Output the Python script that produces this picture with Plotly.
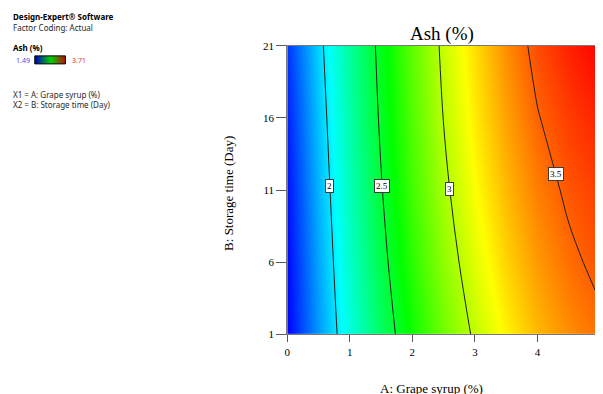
import numpy as np
import plotly.graph_objects as go

# ---- data ----
grape_syrup = [0, 0.5, 1, 1.5, 2, 2.5, 3, 3.5, 4, 4.5, 5]          # A (%)
storage_day = [1, 6, 11, 16, 21]                                     # B (Day)
ash_day1  = [1.496, 1.823, 2.121, 2.390, 2.630, 2.842, 3.025, 3.180, 3.306, 3.403, 3.470]
ash_day6  = [1.507, 1.851, 2.164, 2.444, 2.693, 2.909, 3.094, 3.248, 3.375, 3.470, 3.535]
ash_day11 = [1.529, 1.882, 2.202, 2.489, 2.743, 2.963, 3.151, 3.306, 3.435, 3.525, 3.580]
ash_day16 = [1.562, 1.915, 2.236, 2.525, 2.781, 3.004, 3.196, 3.358, 3.492, 3.580, 3.640]
ash_day21 = [1.605, 1.951, 2.266, 2.552, 2.807, 3.033, 3.228, 3.400, 3.545, 3.640, 3.710]
ash_min, ash_max = 1.49, 3.71
contour_levels = [2, 2.5, 3, 3.5]
contour_labels = ["2", "2.5", "3", "3.5"]
label_days = [11.3, 11.3, 11.1, 12.1]
x_ticks = [0, 1, 2, 3, 4, 5]
y_ticks = [1, 6, 11, 16, 21]

z = np.array([ash_day1, ash_day6, ash_day11, ash_day16, ash_day21])

colorscale = [[0.0, "rgb(0,0,255)"], [0.25, "rgb(0,255,255)"], [0.5, "rgb(0,255,0)"],
              [0.75, "rgb(255,255,0)"], [1.0, "rgb(255,0,0)"]]
legend_scale = [[0.0, "rgb(0,0,190)"], [0.5, "rgb(0,210,0)"], [1.0, "rgb(200,0,0)"]]

serif = "Liberation Serif"
sans = "Noto Sans"

W, H = 603, 394
def fx(x): return (x - 8) / W
def fy(y): return 1 - ((y - 13.2) / 0.968) / H

fig = go.Figure()
fig.add_trace(go.Heatmap(
    x=grape_syrup, y=storage_day, z=z, zsmooth="best",
    colorscale=colorscale, zmin=ash_min, zmax=ash_max,
    showscale=False, hoverinfo="skip", xaxis="x", yaxis="y"
))
fig.add_trace(go.Contour(
    x=grape_syrup, y=storage_day, z=z,
    contours=dict(start=contour_levels[0], end=contour_levels[-1], size=0.5,
                  coloring="none"),
    line=dict(color="rgb(30,30,30)", width=1),
    showscale=False, hoverinfo="skip", xaxis="x", yaxis="y"
))
# small legend gradient bar (min -> max)
fig.add_trace(go.Heatmap(
    x=[0, 1], y=[0, 1], z=[[ash_min, ash_max], [ash_min, ash_max]], zsmooth="best",
    colorscale=legend_scale, zmin=ash_min, zmax=ash_max,
    showscale=False, hoverinfo="skip", xaxis="x2", yaxis="y2"
))

annotations = []
for lvl, txt, d in zip(contour_levels, contour_labels, label_days):
    row = np.array([np.interp(d, storage_day, z[:, j]) for j in range(len(grape_syrup))])
    xl = float(np.interp(lvl, row, grape_syrup))
    annotations.append(dict(x=xl, y=d, xref="x", yref="y", text=txt, showarrow=False,
                            font=dict(family=serif, size=9, color="black"),
                            bgcolor="white", bordercolor="rgb(60,60,60)",
                            borderwidth=1, borderpad=1))

left_texts = [
    ("<b>Design-Expert® Software</b>", 8, 16, "black", 8),
    ("Factor Coding: Actual", 8, 27, "rgb(40,40,40)", 8),
    ("<b>Ash (%)</b>", 8, 47, "black", 8),
    ("1.49", 11, 60, "rgb(80,80,220)", 7),
    ("3.71", 68, 60, "rgb(220,50,50)", 7),
    ("X1 = A: Grape syrup (%)", 8, 94, "rgb(40,40,40)", 8),
    ("X2 = B: Storage time (Day)", 8, 104, "rgb(40,40,40)", 8),
]
for t, x, y, c, s in left_texts:
    annotations.append(dict(x=fx(x), y=fy(y), xref="paper", yref="paper", text=t,
                            showarrow=False, xanchor="left", yanchor="middle",
                            font=dict(family=sans, size=s, color=c)))

# titles
annotations.append(dict(x=fx(443), y=fy(33), xref="paper", yref="paper", text="Ash (%)",
                        showarrow=False, xanchor="center", yanchor="middle",
                        font=dict(family=serif, size=19, color="black")))
annotations.append(dict(x=fx(433), y=fy(387), xref="paper", yref="paper",
                        text="A: Grape syrup (%)", showarrow=False,
                        xanchor="center", yanchor="middle",
                        font=dict(family=serif, size=13, color="black")))
annotations.append(dict(x=fx(227), y=fy(192), xref="paper", yref="paper",
                        text="B: Storage time (Day)", showarrow=False, textangle=-90,
                        xanchor="center", yanchor="middle",
                        font=dict(family=serif, size=13, color="black")))

axis_common = dict(ticks="outside", tickcolor="rgb(90,90,90)", showgrid=False,
                   zeroline=False, showline=True, linecolor="rgb(120,120,120)",
                   linewidth=1, mirror=True,
                   tickfont=dict(family=serif, size=11, color="black"))

fig.update_layout(
    width=W, height=H, margin=dict(l=0, r=0, t=0, b=0),
    paper_bgcolor="white", plot_bgcolor="white",
    xaxis=dict(domain=[fx(287), fx(603)], range=[0, 5], tickvals=x_ticks, ticklen=7,
               anchor="y", **axis_common),
    yaxis=dict(domain=[fy(333), fy(45)], range=[1, 21], tickvals=y_ticks, ticklen=10,
               anchor="x", **axis_common),
    xaxis2=dict(domain=[fx(32), fx(63)], range=[0, 1], visible=False, anchor="y2"),
    yaxis2=dict(domain=[fy(63), fy(55)], range=[0, 1], visible=False, anchor="x2"),
    shapes=[dict(type="rect", xref="paper", yref="paper", x0=fx(32), x1=fx(63),
                 y0=fy(63), y1=fy(55), line=dict(color="black", width=1))],
    annotations=annotations,
    showlegend=False,
)

fig.write_html("out.html")
